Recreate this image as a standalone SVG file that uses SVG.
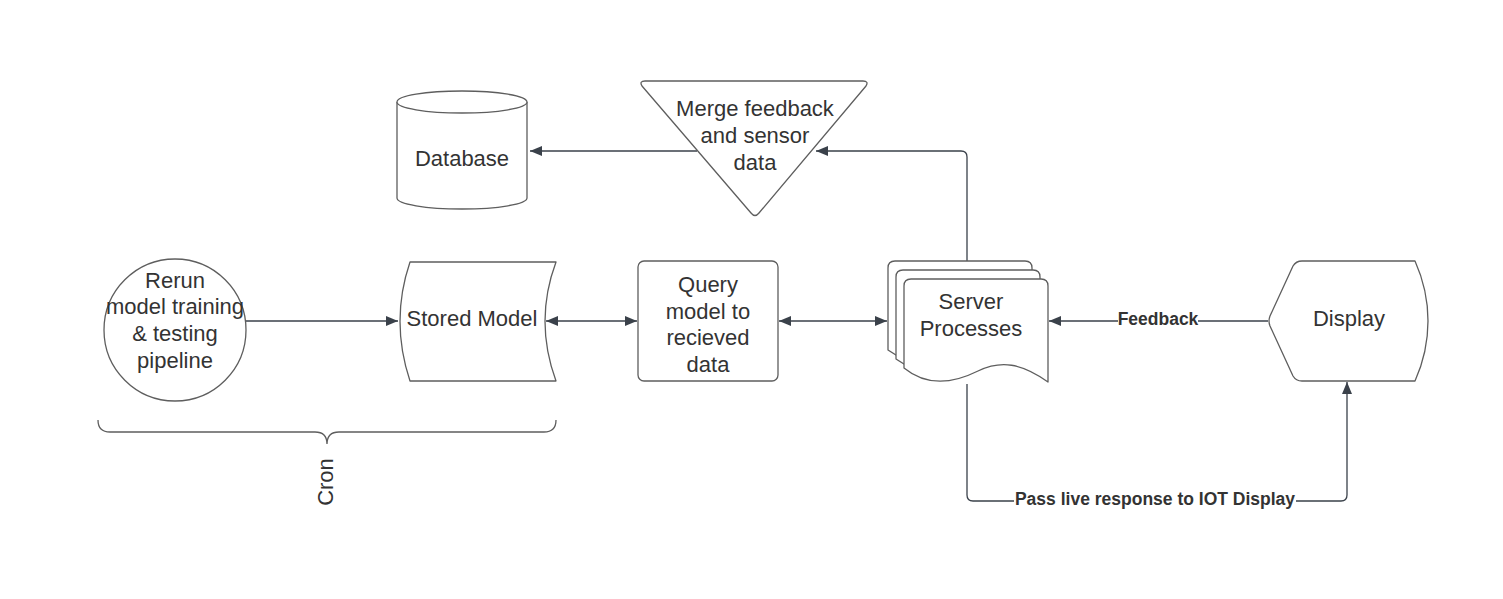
<svg xmlns="http://www.w3.org/2000/svg" width="1503" height="599" viewBox="0 0 1503 599">
<defs>
<style>
.shape{fill:#ffffff;stroke:#5e5e5e;stroke-width:1.3;stroke-linejoin:round}
.t{font-family:"Liberation Sans",Arial,sans-serif;font-size:22px;fill:#333333;text-anchor:middle}
.lbl{font-family:"Liberation Sans",Arial,sans-serif;font-size:17.5px;font-weight:bold;fill:#333333;text-anchor:middle}
.c{fill:none;stroke:#3a414a;stroke-width:1.3}
</style>
<marker id="ah" markerWidth="12" markerHeight="10" refX="12" refY="5" orient="auto-start-reverse" markerUnits="userSpaceOnUse">
<path d="M0,0 L12,5 L0,10 Z" fill="#3a414a"/>
</marker>
</defs>
<rect width="1503" height="599" fill="#ffffff"/>

<g id="connectors">
<path class="c" d="M246,321 L398,321" marker-end="url(#ah)"/>
<path class="c" d="M546,321 L637,321" marker-start="url(#ah)" marker-end="url(#ah)"/>
<path class="c" d="M779,321 L887,321" marker-start="url(#ah)" marker-end="url(#ah)"/>
<path class="c" d="M1268,321 L1049,321" marker-end="url(#ah)"/>
<path class="c" d="M967,262 L967,157 Q967,151 961,151 L816,151" marker-end="url(#ah)"/>
<path class="c" d="M697,151 L530,151" marker-end="url(#ah)"/>
<path class="c" d="M967,384 L967,495 Q967,501 973,501 L1341,501 Q1347,501 1347,495 L1347,382" marker-end="url(#ah)"/>
<rect x="1118" y="310" width="80" height="18" fill="#ffffff"/>
<text class="lbl" x="1158" y="325">Feedback</text>
<rect x="1014" y="490" width="282" height="19" fill="#ffffff"/>
<text class="lbl" x="1155" y="505">Pass live response to IOT Display</text>
</g>

<g id="database">
<path class="shape" d="M397,102 A65,11 0 0 1 527,102 L527,198 A65,11 0 0 1 397,198 Z"/>
<path class="shape" d="M397,102 A65,11 0 0 0 527,102" fill="none"/>
<text class="t" x="462" y="166">Database</text>
</g>

<g id="merge">
<path class="shape" d="M645,81 L863,81 Q869,81 866,86 L759,213 Q755,218 751,213 L642,86 Q639,81 645,81 Z"/>
<text class="t" x="755" y="116">Merge feedback</text>
<text class="t" x="755" y="143">and sensor</text>
<text class="t" x="755" y="170">data</text>
</g>

<g id="rerun">
<circle class="shape" cx="175" cy="330" r="71"/>
<text class="t" x="175" y="288">Rerun</text>
<text class="t" x="175" y="314">model training</text>
<text class="t" x="175" y="341">&amp; testing</text>
<text class="t" x="175" y="368">pipeline</text>
</g>

<g id="stored-model">
<path class="shape" d="M410,262 L556,262 Q534,321 556,381 L410,381 Q390,321 410,262 Z"/>
<text class="t" x="472" y="326">Stored Model</text>
</g>

<g id="query">
<rect class="shape" x="638" y="261" width="140" height="120" rx="6"/>
<text class="t" x="708" y="292">Query</text>
<text class="t" x="708" y="319">model to</text>
<text class="t" x="708" y="345">recieved</text>
<text class="t" x="708" y="372">data</text>
</g>

<g id="server">
<path class="shape" d="M888,268 Q888,261 895,261 L1025,261 Q1032,261 1032,268 L1032,364 C1005,345 985,345 960,356 C935,368 910,366 888,350 Z"/>
<path class="shape" d="M896,277 Q896,270 903,270 L1033,270 Q1040,270 1040,277 L1040,373 C1013,354 993,354 968,365 C943,377 918,375 896,359 Z"/>
<path class="shape" d="M904,286 Q904,279 911,279 L1041,279 Q1048,279 1048,286 L1048,382 C1021,363 1001,360 978,371 C952,384 926,386 904,368 Z"/>
<text class="t" x="971" y="309">Server</text>
<text class="t" x="971" y="336">Processes</text>
</g>

<g id="display">
<path class="shape" d="M1302,261 L1415,261 Q1428,290 1428,321 Q1428,352 1415,381 L1302,381 Q1296,381 1293,376 L1270,326 Q1268,321 1270,316 L1293,266 Q1296,261 1302,261 Z"/>
<text class="t" x="1349" y="326">Display</text>
</g>

<g id="cron">
<path class="c" style="stroke:#5e5e5e" d="M98,420 Q98,432 110,432 L315,432 Q327,432 327,444 Q327,432 339,432 L544,432 Q556,432 556,420"/>
<text class="t" transform="translate(333,482) rotate(-90)" x="0" y="0">Cron</text>
</g>
</svg>
